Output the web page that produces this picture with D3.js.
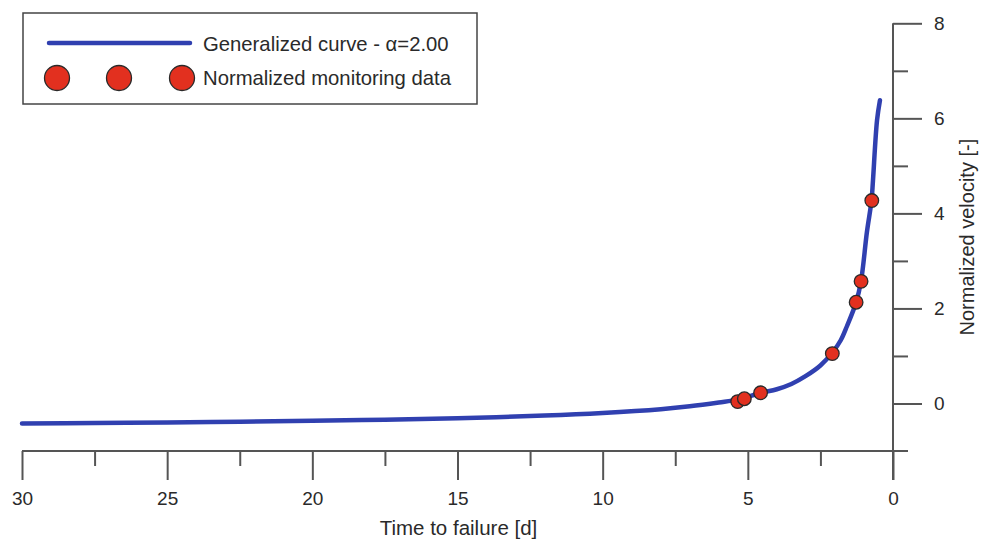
<!DOCTYPE html>
<html>
<head>
<meta charset="utf-8">
<script src="https://cdn.jsdelivr.net/npm/d3@7"></script>
<style>
  html, body { margin: 0; padding: 0; background: #fff; }
  svg { display: block; font-family: "Liberation Sans", Arial, Helvetica, sans-serif; }
</style>
</head>
<body>
<svg id="chart" width="988" height="540"></svg>
<script>
// ---- data ----
const curveT = [30, 27.5, 25, 22.5, 20, 17.5, 15, 12, 10, 8, 7, 6, 5.35, 4.57, 4, 3.5, 3.0, 2.5, 2.09, 1.8, 1.59, 1.27, 1.10, 0.90, 0.74, 0.69, 0.55, 0.45];
const curveV = [-0.42, -0.41, -0.40, -0.383, -0.365, -0.34, -0.31, -0.255, -0.20, -0.12, -0.06, 0.02, 0.08, 0.22, 0.30, 0.41, 0.58, 0.80, 1.07, 1.33, 1.62, 2.13, 2.58, 3.6, 4.27, 4.69, 5.96, 6.38];
const dataT = [5.35, 5.12, 4.56, 2.09, 1.27, 1.10, 0.73];
const dataV = [0.04, 0.10, 0.225, 1.05, 2.13, 2.57, 4.27];
const xMajor = [30, 25, 20, 15, 10, 5, 0];
const xMinor = [27.5, 22.5, 17.5, 12.5, 7.5, 2.5];
const yMajor = [0, 2, 4, 6, 8];
const yMinor = [1, 3, 5, 7];
const legendLabels = ["Generalized curve - \u03b1=2.00", "Normalized monitoring data"];
const xTitle = "Time to failure [d]";
const yTitle = "Normalized velocity [-]";

const BLUE = "#3040B0", RED = "#E2301F", AX = "#555", TXT = "#2a2a2a";

const svg = d3.select("#chart");
const x = d3.scaleLinear().domain([30, 0]).range([22, 893]);
const y = d3.scaleLinear().domain([-1, 8]).range([451, 23.3]);

// x axis
const xg = svg.append("g").attr("transform", `translate(0,${y(-1)})`);
xg.call(d3.axisBottom(x).tickValues(xMajor).tickSize(29).tickPadding(12).tickFormat(d3.format("d")))
  .call(g => g.select(".domain").remove());
xg.append("g").call(d3.axisBottom(x).tickValues(xMinor).tickSize(15).tickFormat(""))
  .call(g => g.select(".domain").remove());
xg.append("line").attr("x1", x(30)).attr("x2", x(0) + 15).attr("y1", 0).attr("y2", 0);
xg.selectAll("line").attr("stroke", AX).attr("stroke-width", 2);
xg.selectAll("text").attr("fill", TXT).attr("font-size", 19).attr("font-family", "Liberation Sans, Arial, sans-serif");

// y axis (right)
const yg = svg.append("g").attr("transform", `translate(${x(0)},0)`);
yg.call(d3.axisRight(y).tickValues(yMajor).tickSize(29).tickPadding(12).tickFormat(d3.format("d")))
  .call(g => g.select(".domain").remove());
yg.append("g").call(d3.axisRight(y).tickValues(yMinor).tickSize(15).tickFormat(""))
  .call(g => g.select(".domain").remove());
yg.append("line").attr("x1", 0).attr("x2", 0).attr("y1", y(8)).attr("y2", y(-1) + 29);
yg.selectAll("line").attr("stroke", AX).attr("stroke-width", 2);
yg.selectAll("text").attr("fill", TXT).attr("font-size", 19).attr("font-family", "Liberation Sans, Arial, sans-serif");

// titles
svg.append("text").attr("x", (x(30) + x(0)) / 2 + 1).attr("y", 535).attr("text-anchor", "middle")
  .attr("fill", TXT).attr("font-size", 20.5).text(xTitle);
svg.append("text").attr("transform", `translate(974,${y(3.5)}) rotate(-90)`).attr("text-anchor", "middle")
  .attr("fill", TXT).attr("font-size", 20).text(yTitle);

// curve
const curvePts = curveT.map((t, i) => [t, curveV[i]]);
const line = d3.line().x(d => x(d[0])).y(d => y(d[1])).curve(d3.curveCatmullRom.alpha(0.5));
svg.append("path").datum(curvePts).attr("d", line).attr("fill", "none")
  .attr("stroke", BLUE).attr("stroke-width", 4.5).attr("stroke-linecap", "round").attr("stroke-linejoin", "round");

// points
svg.append("g").selectAll("circle").data(dataT.map((t, i) => [t, dataV[i]])).join("circle")
  .attr("cx", d => x(d[0])).attr("cy", d => y(d[1])).attr("r", 6.8)
  .attr("fill", RED).attr("stroke", "#2a2a2a").attr("stroke-width", 1.3);

// legend
const lg = svg.append("g");
lg.append("rect").attr("x", 23).attr("y", 13).attr("width", 454).attr("height", 91)
  .attr("fill", "#fff").attr("stroke", "#444").attr("stroke-width", 1.5);
lg.append("line").attr("x1", 49).attr("x2", 190).attr("y1", 43).attr("y2", 43)
  .attr("stroke", BLUE).attr("stroke-width", 4.5).attr("stroke-linecap", "round");
lg.selectAll("circle.leg").data([57, 119, 182]).join("circle").attr("class", "leg")
  .attr("cx", d => d).attr("cy", 78).attr("r", 12.5)
  .attr("fill", RED).attr("stroke", "#2a2a2a").attr("stroke-width", 1.3);
lg.selectAll("text").data(legendLabels).join("text")
  .attr("x", 203).attr("y", (d, i) => [44, 78][i]).attr("dy", "0.35em")
  .attr("fill", TXT).attr("font-size", 20.3).text(d => d);
</script>
</body>
</html>
